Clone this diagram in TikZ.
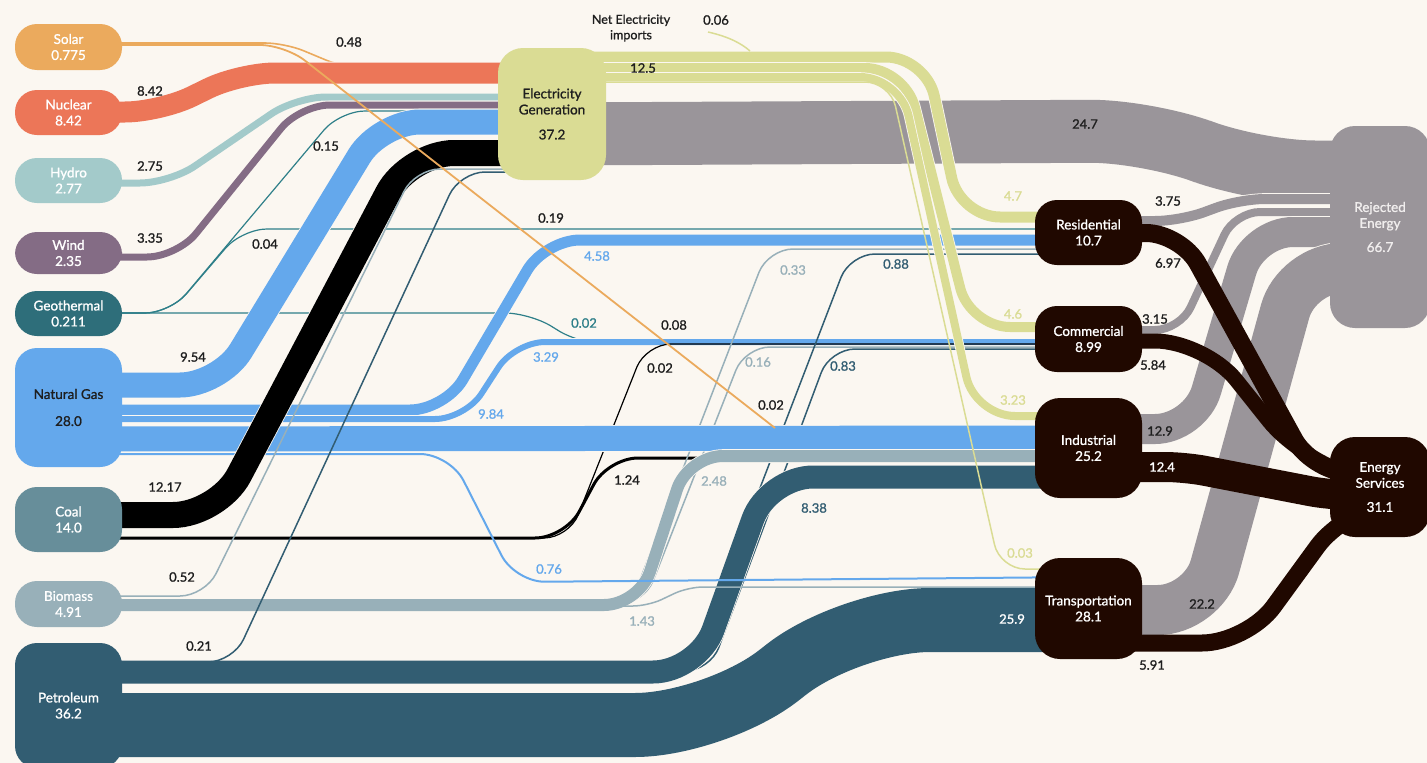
\documentclass[tikz,border=0pt]{standalone}
\usepackage{fontspec}
\setmainfont{Lato}[FakeBold=1.1]
\definecolor{bg}{HTML}{FBF7F1}
\definecolor{solarC}{HTML}{EBAA5D}
\definecolor{nucC}{HTML}{EC7658}
\definecolor{hydroC}{HTML}{A3CACA}
\definecolor{windC}{HTML}{846C85}
\definecolor{geoC}{HTML}{2E6E7A}
\definecolor{geoLine}{HTML}{2E7F89}
\definecolor{gasC}{HTML}{64A8EC}
\definecolor{coalC}{HTML}{678E9A}
\definecolor{bioC}{HTML}{98B0B9}
\definecolor{petC}{HTML}{325D72}
\definecolor{elecC}{HTML}{DADC94}
\definecolor{rejC}{HTML}{9A959A}
\definecolor{endC}{HTML}{200800}
\definecolor{txtC}{HTML}{1E1E1E}
\definecolor{rejTxt}{HTML}{F1EEEE}
\pgfdeclarelayer{back}
\pgfdeclarelayer{flows}
\pgfsetlayers{back,flows,main}
\tikzset{box/.style={rounded corners=22pt, minimum width=107pt, inner sep=0pt,
                     text=white, align=center, font=\fontsize{13.5}{16}\selectfont}}
\tikzset{enduse/.style={box, fill=endC}}
\tikzset{band/.style={line width=#1, preaction={draw=bg, line width=#1+1.6pt}}}
\tikzset{wire/.style={line width=#1}}
\tikzset{val/.style={font=\fontsize{13}{14}\selectfont, text=txtC, inner sep=0pt}}
\begin{document}
\begin{tikzpicture}[x=1pt, y=-1pt]
    \useasboundingbox (0,0) rectangle (1427,763);
    \begin{pgfonlayer}{back}
      \fill[bg] (0,0) rectangle (1427,763);
    \end{pgfonlayer}
    % sources
    \node[box, fill=solarC, minimum height=46pt] (solar) at (68.5,47) {Solar\\0.775};
    \node[box, fill=nucC, minimum height=45pt] (nuclear) at (68.5,112.5) {Nuclear\\8.42};
    \node[box, fill=hydroC, minimum height=45pt] (hydro) at (68.5,180.5) {Hydro\\2.77};
    \node[box, fill=windC, minimum height=42pt] (wind) at (68.5,253) {Wind\\2.35};
    \node[box, fill=geoC, minimum height=45pt] (geo) at (68.5,313.5) {Geothermal\\0.211};
    \node[box, fill=gasC, text=txtC, minimum height=119pt] (gas) at (68.5,407.5) {Natural Gas\\[11pt]28.0};
    \node[box, fill=coalC, minimum height=65pt] (coal) at (68.5,519.5) {Coal\\14.0};
    \node[box, fill=bioC, minimum height=46pt] (bio) at (68.5,604) {Biomass\\4.91};
    \node[box, fill=petC, minimum height=125pt] (petrol) at (68.5,705.5) {Petroleum\\36.2};
    \node[box, fill=elecC, text=txtC, minimum width=108pt, minimum height=132pt,
          rounded corners=25pt] (elec) at (552,114) {Electricity\\Generation\\[9pt]37.2};
    % end uses
    \node[enduse, minimum height=65pt] (res) at (1088.5,232.5) {Residential\\10.7};
    \node[enduse, minimum height=66pt] (com) at (1088.5,339) {Commercial\\8.99};
    \node[enduse, minimum height=100pt, rounded corners=25pt] (ind) at (1088.5,448) {Industrial\\25.2};
    \node[enduse, minimum height=101pt, rounded corners=25pt] (trans) at (1088.5,608.5) {Transportation\\28.1};
    \node[box, fill=rejC, text=rejTxt, minimum width=100pt, minimum height=202pt,
          rounded corners=25pt] (rej) at (1380,227) {Rejected\\Energy\\[8pt]66.7};
    \node[enduse, minimum width=100pt, minimum height=100pt, rounded corners=25pt]
          (es) at (1380,487) {Energy\\Services\\[8pt]31.1};
    \coordinate (imp) at (708,32);
    \coordinate (impend) at (750,51);
    \coordinate (solarend) at (775,428);

    \begin{pgfonlayer}{flows}
    % rejected energy
    \draw[band=63pt, rejC, rounded corners=60pt] (elec.center |- 0,134) -- (1150,131) -- (1255,172) -- (rej.center |- 0,172);
    \draw[band=10pt, rejC, rounded corners=25pt] (res.center |- 0,221) -- (1180,221) -- (1240,199) -- (rej.center |- 0,199);
    \draw[band=8pt, rejC, rounded corners=25pt] (com.center |- 0,330) -- (1180,330) -- (1235,212) -- (rej.center |- 0,212);
    \draw[band=30pt, rejC, rounded corners=40pt] (ind.center |- 0,429) -- (1195,429) -- (1253,232) -- (rej.center |- 0,232);
    \draw[band=50pt, rejC, rounded corners=45pt] (trans.center |- 0,610) -- (1203,610) -- (1297,268) -- (rej.center |- 0,268);
    % into electricity
    \draw[wire=1.6pt, solarC, rounded corners=20pt] (solar.center |- 0,43) -- (285,43) -- (345,68) -- (elec.center |- 0,68);
    \draw[band=21pt, nucC, rounded corners=35pt] (nuclear.center |- 0,112) -- (160,112) -- (240,73) -- (elec.center |- 0,73);
    \draw[band=7pt, hydroC, rounded corners=30pt] (hydro.center |- 0,183) -- (170,183) -- (296,97) -- (elec.center |- 0,97);
    \draw[band=7pt, windC, rounded corners=30pt] (wind.center |- 0,257) -- (177,257) -- (300,105) -- (elec.center |- 0,105);
    \draw[wire=1.2pt, geoLine, rounded corners=25pt] (geo.center |- 0,313) -- (170,313) -- (340,111) -- (elec.center |- 0,111);
    \draw[wire=1.2pt, geoLine, rounded corners=25pt] (geo.center |- 0,313) -- (170,313) -- (242,229) -- (res.center |- 0,229);
    \draw[wire=1.2pt, geoLine, rounded corners=25pt] (geo.center |- 0,313) -- (530,313) -- (580,344) -- (com.center |- 0,344);
    % natural gas
    \draw[band=25pt, gasC, rounded corners=40pt] (gas.center |- 0,385) -- (220,385) -- (380,122) -- (elec.center |- 0,122);
    \draw[band=11pt, gasC, rounded corners=35pt] (gas.center |- 0,410) -- (445,410) -- (545,240) -- (res.center |- 0,240);
    \draw[band=6pt, gasC, rounded corners=30pt] (gas.center |- 0,419) -- (465,419) -- (515,342) -- (com.center |- 0,342);
    % thin lines to the end uses
    \draw[wire=1.2pt, black, rounded corners=25pt] (coal.center |- 0,538) -- (569,538) -- (646,344) -- (com.center |- 0,344);
    \draw[wire=3pt, black, rounded corners=30pt] (coal.center |- 0,538) -- (565,538) -- (608,458) -- (ind.center |- 0,458);
    \draw[wire=1.5pt, bioC, rounded corners=25pt] (bio.center |- 0,603) -- (631,603) -- (768,249) -- (res.center |- 0,249);
    \draw[wire=1.5pt, bioC, rounded corners=25pt] (bio.center |- 0,604) -- (644,604) -- (745,347) -- (com.center |- 0,347);
    \draw[wire=1.5pt, petC, rounded corners=25pt] (petrol.center |- 0,670) -- (690,670) -- (850,254) -- (res.center |- 0,254);
    \draw[wire=1.5pt, petC, rounded corners=25pt] (petrol.center |- 0,671) -- (710,671) -- (830,349) -- (com.center |- 0,349);
    \draw[band=25pt, gasC] (gas.center |- 0,439) -- (ind.center |- 0,438);
    % biomass and petroleum
    \draw[band=12pt, bioC, rounded corners=35pt] (bio.center |- 0,605) -- (639,605) -- (688,456) -- (ind.center |- 0,456);
    \draw[band=23pt, petC, rounded corners=45pt] (petrol.center |- 0,672) -- (698,672) -- (768,477) -- (ind.center |- 0,477);
    \draw[band=64pt, petC, rounded corners=80pt] (petrol.center |- 0,725) -- (715,725) -- (850,620) -- (trans.center |- 0,620);
    \draw[wire=1.5pt, bioC, rounded corners=15pt] (bio.center |- 0,606) -- (648,606) -- (688,587) -- (trans.center |- 0,587);
    \draw[wire=2pt, gasC, rounded corners=30pt] (gas.center |- 0,454) -- (450,454) -- (515,582) -- (trans.center |- 0,577);
    % coal
    \draw[band=26pt, black, rounded corners=45pt] (coal.center |- 0,515) -- (218,515) -- (409,153) -- (elec.center |- 0,153);
    \draw[wire=1.5pt, bioC, rounded corners=25pt] (bio.center |- 0,596) -- (205,596) -- (415,169) -- (elec.center |- 0,169);
    \draw[wire=1.5pt, petC, rounded corners=25pt] (petrol.center |- 0,662) -- (233,662) -- (460,172) -- (elec.center |- 0,172);
    \draw[wire=1.8pt, solarC, rounded corners=25pt] (solar.center |- 0,45) -- (285,45) -- (solarend);
    % out of electricity
    \draw[band=11pt, elecC, rounded corners=40pt] (elec.center |- 0,57) -- (926,57) -- (960,217) -- (res.center |- 0,217);
    \draw[band=10pt, elecC, rounded corners=40pt] (elec.center |- 0,68) -- (905,68) -- (970,327) -- (com.center |- 0,327);
    \draw[band=8pt, elecC, rounded corners=40pt] (elec.center |- 0,77) -- (900,77) -- (975,416) -- (ind.center |- 0,416);
    \draw[wire=1.5pt, elecC, rounded corners=25pt] (elec.center |- 0,82) -- (890,82) -- (1000,569) -- (trans.center |- 0,569);
    \draw[wire=1.5pt, elecC] (imp) .. controls (730,37) and (742,44) .. (impend);
    % energy services
    \draw[wire=18pt, endC, rounded corners=35pt] (res.center |- 0,233) -- (1181,233) -- (1311,470) -- (es.center |- 0,475);
    \draw[wire=15pt, endC, rounded corners=50pt] (com.center |- 0,341) -- (1205,341) -- (1300,460) -- (es.center |- 0,482);
    \draw[wire=30pt, endC, rounded corners=20pt] (ind.center |- 0,467) -- (1185,467) -- (1330,495) -- (es.center |- 0,495);
    \draw[wire=17pt, endC, rounded corners=45pt] (trans.center |- 0,643) -- (1247,643) -- (1344,510) -- (es.center |- 0,505);
    \end{pgfonlayer}

    % Labels
    \node[val, align=center, font=\fontsize{12.5}{15.5}\selectfont] (netimp) at (631,28) {Net Electricity\\imports};
    \foreach \lab/\x/\y [count=\i] in {0.48/349/42, 8.42/150/91, 2.75/150/166, 3.35/150/238,
        0.15/326/146, 0.04/265/244, 9.54/193/357, 12.17/165/487, 0.52/182/577, 0.21/199/646,
        12.5/643/68, 0.06/716/20, 0.19/551/218, 0.08/674/325, 0.02/660/368, 0.02/771/405,
        1.24/627/480, 24.7/1085/124, 3.75/1168/201, 6.97/1168/263, 3.15/1155/319,
        5.84/1153/365, 12.9/1160/431, 22.2/1202/604, 5.91/1152/665}{%
          \node[val] (k\i) at (\x,\y) {\lab};
        }
    \foreach \lab/\x/\y [count=\i] in {4.58/597/256, 3.29/546/357, 9.84/491/414, 0.76/549/569}{%
          \node[val, text=gasC] (b\i) at (\x,\y) {\lab};
        }
    \node[val, text=geoLine] (t1) at (584,323) {0.02};
    \foreach \lab/\x/\y [count=\i] in {2.48/714/481, 1.43/642/621, 0.33/793/270, 0.16/758/362}{%
          \node[val, text=bioC] (m\i) at (\x,\y) {\lab};
        }
    \foreach \lab/\x/\y [count=\i] in {0.88/896/264, 0.83/843/366, 8.38/814/508}{%
          \node[val, text=petC] (p\i) at (\x,\y) {\lab};
        }
    \foreach \lab/\x/\y [count=\i] in {4.7/1013/196, 4.6/1013/314, 3.23/1013/400, 0.03/1020/553}{%
          \node[val, text=elecC] (y\i) at (\x,\y) {\lab};
        }
    \node[val, text=white] (w1) at (1012,619) {25.9};
    \node[val, text=white] (w2) at (1162,467) {12.4};
\end{tikzpicture}
\end{document}
